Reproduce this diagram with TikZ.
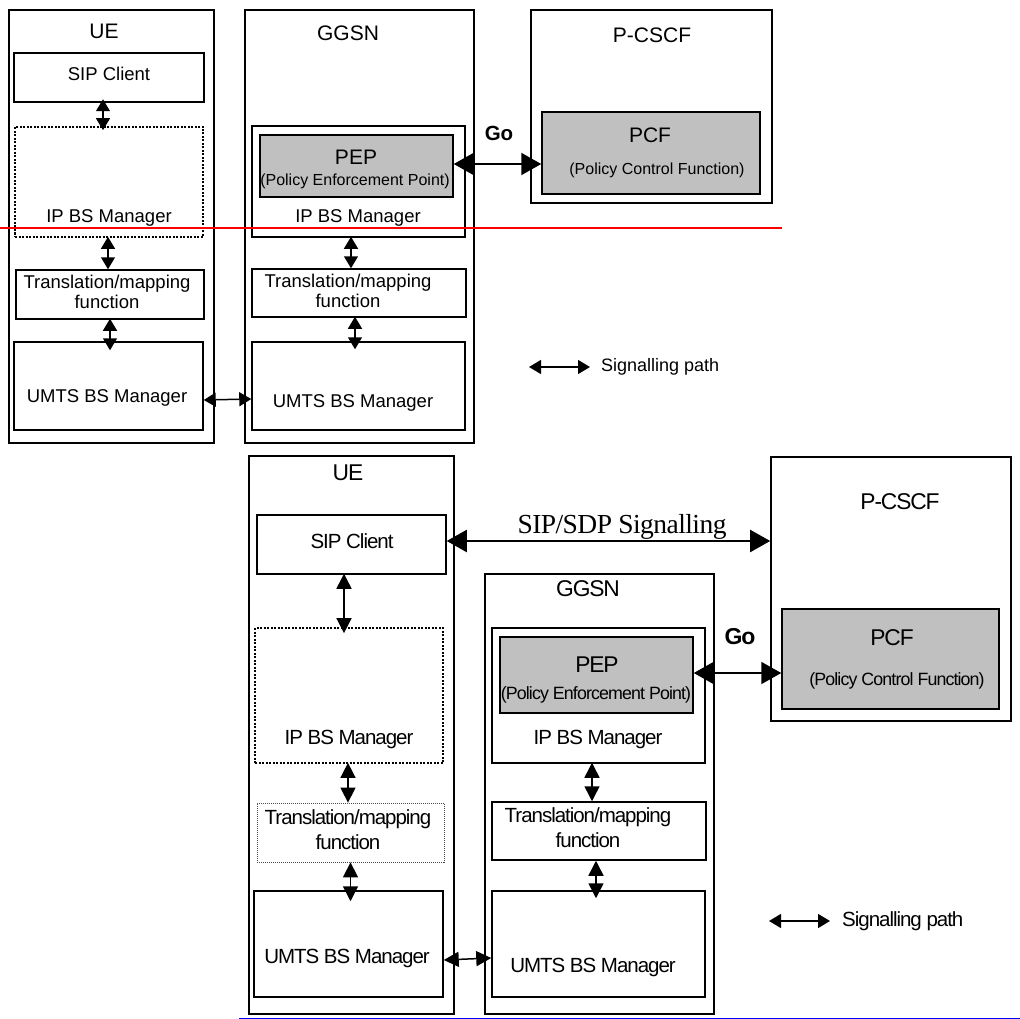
\documentclass[tikz,border=0pt]{standalone}
\usepackage{fontspec}
\setmainfont{Liberation Sans}
\newfontfamily\tightsans[LetterSpace=-5]{Liberation Sans}
\newfontfamily\sdpserif[LetterSpace=-2]{Liberation Serif}
\usepackage{xcolor}
\usetikzlibrary{arrows.meta, positioning, calc}
\definecolor{polgray}{RGB}{192,192,192}
\tikzset{
    entBox/.style={draw=black, line width=1.6pt, inner sep=0pt},
    fnBox/.style={draw=black, line width=1.5pt, inner sep=0pt},
    dotBox/.style={draw=black, line width=1.7pt, dash pattern=on 2pt off 1.5pt, inner sep=0pt},
    faintBox/.style={draw=black!70, line width=0.8pt, dash pattern=on 1pt off 1pt, inner sep=0pt},
    polBox/.style={fnBox, fill=polgray},
    sigLine/.style={<->, >={Triangle[length=12pt, width=14pt]}, line width=1.5pt},
    sigLineB/.style={<->, >={Triangle[length=15pt, width=15pt]}, line width=1.5pt},
    goLine/.style={<->, >={Triangle[length=20pt, width=22pt]}, line width=2pt},
    ttlText/.style={inner sep=0pt, font=\fontsize{21}{24}\selectfont},
    lblText/.style={inner sep=0pt, align=center, font=\fontsize{18.5}{20}\selectfont},
    subText/.style={inner sep=0pt, font=\fontsize{16}{18}\selectfont},
    goText/.style={inner sep=0pt, font=\bfseries\fontsize{20.5}{24}\selectfont},
    legText/.style={inner sep=0pt, anchor=west, font=\fontsize{18}{20}\selectfont},
    ttlTextB/.style={inner sep=0pt, font=\tightsans\fontsize{22.8}{26}\selectfont},
    lblTextB/.style={inner sep=0pt, align=center, font=\tightsans\fontsize{20.5}{25}\selectfont},
    subTextB/.style={inner sep=0pt, font=\tightsans\fontsize{17.8}{20}\selectfont},
    goTextB/.style={inner sep=0pt, font=\tightsans\bfseries\fontsize{23}{26}\selectfont},
    legTextB/.style={inner sep=0pt, anchor=west, font=\tightsans\fontsize{20.5}{23}\selectfont},
    sdpText/.style={inner sep=0pt, anchor=base, font=\sdpserif\fontsize{27.5}{30}\selectfont}
}

\begin{document}
\begin{tikzpicture}[x=1pt, y=-1pt]
    \useasboundingbox (0,0) rectangle (1020,1019);

    % upper figure: UE
    \node[entBox, minimum width=205pt, minimum height=433pt] (ueT) at (111.5,226.5) {};
    \node[ttlText] (ueTttl) at (104,31) {UE};
    \node[fnBox, minimum width=190pt, minimum height=49pt] (sipT) at (109,77.5) {};
    \node[lblText] (sipTtxt) at (109,74) {SIP Client};
    \node[dotBox, minimum width=188pt, minimum height=110pt] (ipbsT) at (109,182) {};
    \node[lblText] (ipbsTtxt) at (109,218) {IP BS Manager};
    \node[fnBox, minimum width=188pt, minimum height=49pt] (trT) at (110,294.5) {};
    \node[lblText] (trTtxt) at (107,292) {Translation/mapping\\function};
    \node[fnBox, minimum width=189pt, minimum height=88pt] (umtsT) at (108.5,386) {};
    \node[lblText] (umtsTtxt) at (107,398) {UMTS BS Manager};

    % upper figure: GGSN
    \node[entBox, minimum width=229pt, minimum height=433pt] (ggT) at (359.5,226.5) {};
    \node[ttlText] (ggTttl) at (348,33) {GGSN};
    \node[fnBox, minimum width=213pt, minimum height=111pt] (ipbsGT) at (358.5,181.5) {};
    \node[polBox, minimum width=193pt, minimum height=62pt] (pepT) at (356.5,166) {};
    \node[ttlText] (pepTttl) at (356,157) {PEP};
    \node[subText] (pepTsub) at (355,181) {(Policy Enforcement Point)};
    \node[lblText] (ipbsGTtxt) at (358,218) {IP BS Manager};
    \node[fnBox, minimum width=214pt, minimum height=48pt] (trGT) at (359,293) {};
    \node[lblText] (trGTtxt) at (348,291) {Translation/mapping\\function};
    \node[fnBox, minimum width=213pt, minimum height=88pt] (umtsGT) at (358.5,386) {};
    \node[lblText] (umtsGTtxt) at (353,403) {UMTS BS Manager};

    % upper figure: P-CSCF
    \node[entBox, minimum width=241pt, minimum height=193pt] (pcT) at (651.5,106.5) {};
    \node[ttlText] (pcTttl) at (652,35) {P-CSCF};
    \node[polBox, minimum width=218pt, minimum height=82pt] (pcfT) at (651,153) {};
    \node[ttlText] (pcfTttl) at (650,135) {PCF};
    \node[subText] (pcfTsub) at (657,170) {(Policy Control Function)};

    % upper figure: signalling
    \draw[sigLine] ([xshift=-6pt, yshift=3.5pt]sipT.south) -- ([xshift=-6pt, yshift=-4pt]sipT.south |- ipbsT.north);
    \draw[sigLine] ([xshift=-1pt, yshift=1pt]ipbsT.south) -- ([xshift=-1pt]ipbsT.south |- trT.north);
    \draw[sigLine] ([yshift=1pt]trT.south) -- ([yshift=-9pt]trT.south |- umtsT.north);
    \draw[sigLine] ([xshift=-7.5pt, yshift=1pt]ipbsGT.south) -- ([xshift=-7.5pt]ipbsGT.south |- trGT.north);
    \draw[sigLine] ([xshift=-4pt, yshift=1pt]trGT.south) -- ([xshift=-4pt, yshift=-8pt]trGT.south |- umtsGT.north);
    \draw[sigLine] ([yshift=-14pt]umtsT.east) -- ([yshift=-13pt]umtsGT.west);
    \draw[goLine] ([yshift=2pt]pepT.east) -- ([yshift=2pt]pepT.east -| pcfT.west);
    \node[goText] (goT) at (499,133) {Go};

    \coordinate (legTa) at (529,367);
    \coordinate (legTb) at (590,367);
    \draw[sigLine] (legTa) -- (legTb);
    \node[legText, right=11pt of legTb] (legTtxt) {Signalling path};

    \coordinate (redL) at (0,228);
    \coordinate (redR) at (782,228);
    \draw[red, line width=1.3pt] (redL) -- (redR);

    % lower figure: UE
    \node[entBox, minimum width=205pt, minimum height=558pt] (ueB) at (351.5,735) {};
    \node[ttlTextB] (ueBttl) at (348,473) {UE};
    \node[fnBox, minimum width=189pt, minimum height=59pt] (sipB) at (351.5,544.5) {};
    \node[lblTextB] (sipBtxt) at (352,541) {SIP Client};
    \node[dotBox, minimum width=188pt, minimum height=135pt] (ipbsB) at (349,695.5) {};
    \node[lblTextB] (ipbsBtxt) at (349,739) {IP BS Manager};
    \node[faintBox, minimum width=187pt, minimum height=59pt] (trB) at (350.5,832.5) {};
    \node[lblTextB] (trBtxt) at (348,829.5) {Translation/mapping\\function};
    \node[fnBox, minimum width=189pt, minimum height=106pt] (umtsB) at (348.5,944) {};
    \node[lblTextB] (umtsBtxt) at (347,958) {UMTS BS Manager};

    % lower figure: GGSN
    \node[entBox, minimum width=229pt, minimum height=440pt] (ggB) at (599.5,794) {};
    \node[ttlTextB] (ggBttl) at (588,589) {GGSN};
    \node[fnBox, minimum width=213pt, minimum height=135pt] (ipbsGB) at (598.5,695.5) {};
    \node[polBox, minimum width=193pt, minimum height=76pt] (pepB) at (596.5,675) {};
    \node[ttlTextB] (pepBttl) at (597,665) {PEP};
    \node[subTextB] (pepBsub) at (596,695) {(Policy Enforcement Point)};
    \node[lblTextB] (ipbsGBtxt) at (598,739) {IP BS Manager};
    \node[fnBox, minimum width=214pt, minimum height=58pt] (trGB) at (599,831) {};
    \node[lblTextB] (trGBtxt) at (588,827.5) {Translation/mapping\\function};
    \node[fnBox, minimum width=213pt, minimum height=106pt] (umtsGB) at (598.5,944) {};
    \node[lblTextB] (umtsGBtxt) at (593,967) {UMTS BS Manager};

    % lower figure: P-CSCF
    \node[entBox, minimum width=240pt, minimum height=264pt] (pcB) at (891,589) {};
    \node[ttlTextB] (pcBttl) at (900,502) {P-CSCF};
    \node[polBox, minimum width=217pt, minimum height=100pt] (pcfB) at (890.5,659) {};
    \node[ttlTextB] (pcfBttl) at (892,638) {PCF};
    \node[subTextB] (pcfBsub) at (897,681) {(Policy Control Function)};

    % lower figure: signalling
    \draw[goLine] ([yshift=3.5pt]sipB.east) -- ([yshift=3.5pt]sipB.east -| pcB.west);
    \node[sdpText] (sdpTxt) at (622,533) {SIP/SDP Signalling};
    \draw[sigLineB] ([xshift=-7.5pt, yshift=1pt]sipB.south) -- ([xshift=-7.5pt, yshift=-6pt]sipB.south |- ipbsB.north);
    \draw[sigLineB] ([xshift=-1pt, yshift=1pt]ipbsB.south) -- ([xshift=-1pt]ipbsB.south |- trB.north);
    \draw[sigLineB] (trB.south) -- ([yshift=-11pt]trB.south |- umtsB.north);
    \draw[sigLineB] ([xshift=-6.5pt, yshift=1pt]ipbsGB.south) -- ([xshift=-6.5pt]ipbsGB.south |- trGB.north);
    \draw[sigLineB] ([xshift=-3pt]trGB.south) -- ([xshift=-3pt, yshift=-8pt]trGB.south |- umtsGB.north);
    \draw[sigLineB] ([yshift=-16pt]umtsB.east) -- ([yshift=-14pt]umtsGB.west);
    \draw[goLine] ([yshift=2pt]pepB.east) -- ([yshift=2pt]pepB.east -| pcfB.west);
    \node[goTextB] (goB) at (740,637) {Go};

    \coordinate (legBa) at (769,921);
    \coordinate (legBb) at (830,921);
    \draw[sigLine] (legBa) -- (legBb);
    \node[legTextB, right=12pt of legBb] (legBtxt) {Signalling path};

    \coordinate (blueL) at (239,1018);
    \coordinate (blueR) at (1020,1018);
    \draw[blue, line width=1pt] (blueL) -- (blueR);
\end{tikzpicture}
\end{document}
